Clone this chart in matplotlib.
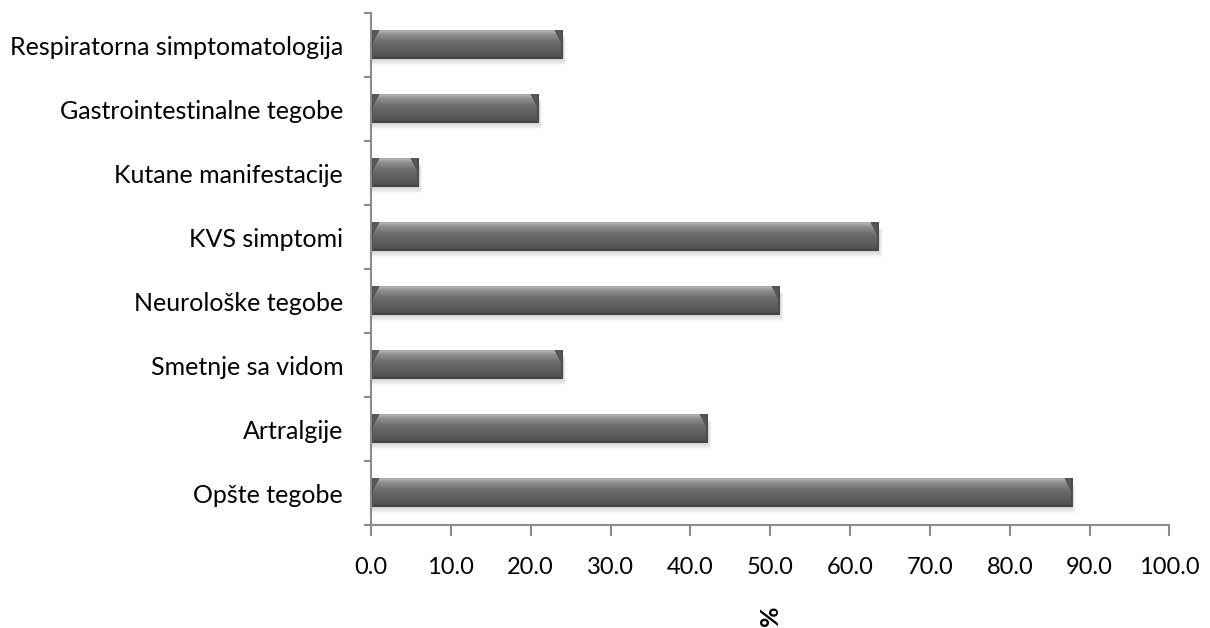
import numpy as np
import matplotlib
matplotlib.use("Agg")
import matplotlib.pyplot as plt

plt.rcParams['font.family'] = ['Lato', 'DejaVu Sans']

# symptom groups, listed bottom to top as drawn
categories = ["Opšte tegobe", "Artralgije", "Smetnje sa vidom", "Neurološke tegobe",
              "KVS simptomi", "Kutane manifestacije", "Gastrointestinalne tegobe",
              "Respiratorna simptomatologija"]
percent = [87.8, 42.2, 24.0, 51.2, 63.6, 6.0, 21.0, 24.0]
x_ticks = [0, 10, 20, 30, 40, 50, 60, 70, 80, 90, 100]

bar_h = 0.44
px_per_unit = 8.0


def bar_image(value, rows=48):
    # vertical shading of a bevelled bar, highlight on top, dark lower edge
    t = np.linspace(0, 1, rows)
    shade = np.interp(t, [0.0, 0.05, 0.12, 0.3, 0.5, 0.75, 0.9, 1.0],
                      [0.66, 0.70, 0.58, 0.48, 0.40, 0.36, 0.32, 0.25])
    cols = max(int(value * px_per_unit), 6)
    img = np.repeat(shade[:, None], cols, axis=1)
    bevel = 8.0
    d = np.minimum(np.arange(cols), cols - 1 - np.arange(cols))[None, :]
    tt = t[:, None]
    side = (d < bevel * (1 - tt / 0.55)) & (tt < 0.55)
    img = np.where(side, 0.34, img)
    edge = d < 1.5
    img = np.where(edge, 0.30, img)
    return np.dstack([img, img, img])


fig = plt.figure(figsize=(12.1, 6.28), dpi=100)
ax = fig.add_axes([0.3066, 0.164, 0.9665 - 0.3066, 0.979 - 0.164])

for i, v in enumerate(percent):
    y0 = i - bar_h / 2
    y1 = i + bar_h / 2
    # soft shadow under the bar
    for k, a in enumerate([0.10, 0.07, 0.05, 0.03]):
        off = 0.03 + 0.025 * k
        ax.fill_between([0, v + 0.15 + 0.1 * k], y0 - off, y1 - 0.1,
                        color="#606060", alpha=a, lw=0, zorder=1)
    ax.imshow(bar_image(v), extent=(0, v, y0, y1), aspect='auto',
              interpolation='bilinear', zorder=2)

ax.set_xlim(0, 100)
ax.set_ylim(-0.5, len(categories) - 0.5)

ax.set_xticks(x_ticks)
ax.set_xticklabels([f"{t:.1f}" for t in x_ticks], fontsize=17)
ax.set_yticks(np.arange(len(categories) + 1) - 0.5)
ax.set_yticklabels([])
ax.set_yticks(np.arange(len(categories)), minor=True)
ax.set_yticklabels(categories, minor=True, fontsize=18)
ax.tick_params(axis='y', which='minor', length=0, pad=20)
ax.tick_params(axis='y', which='major', length=5, width=1.5, color="#8c8c8c")
ax.tick_params(axis='x', length=8, width=1.5, color="#8c8c8c", pad=15)

for s in ["top", "right"]:
    ax.spines[s].set_visible(False)
for s in ["left", "bottom"]:
    ax.spines[s].set_color("#8c8c8c")
    ax.spines[s].set_linewidth(1.5)

ax.set_xlabel("%", fontsize=18, fontweight='bold', rotation=90, labelpad=20)

fig.savefig("out.png", dpi=100)
